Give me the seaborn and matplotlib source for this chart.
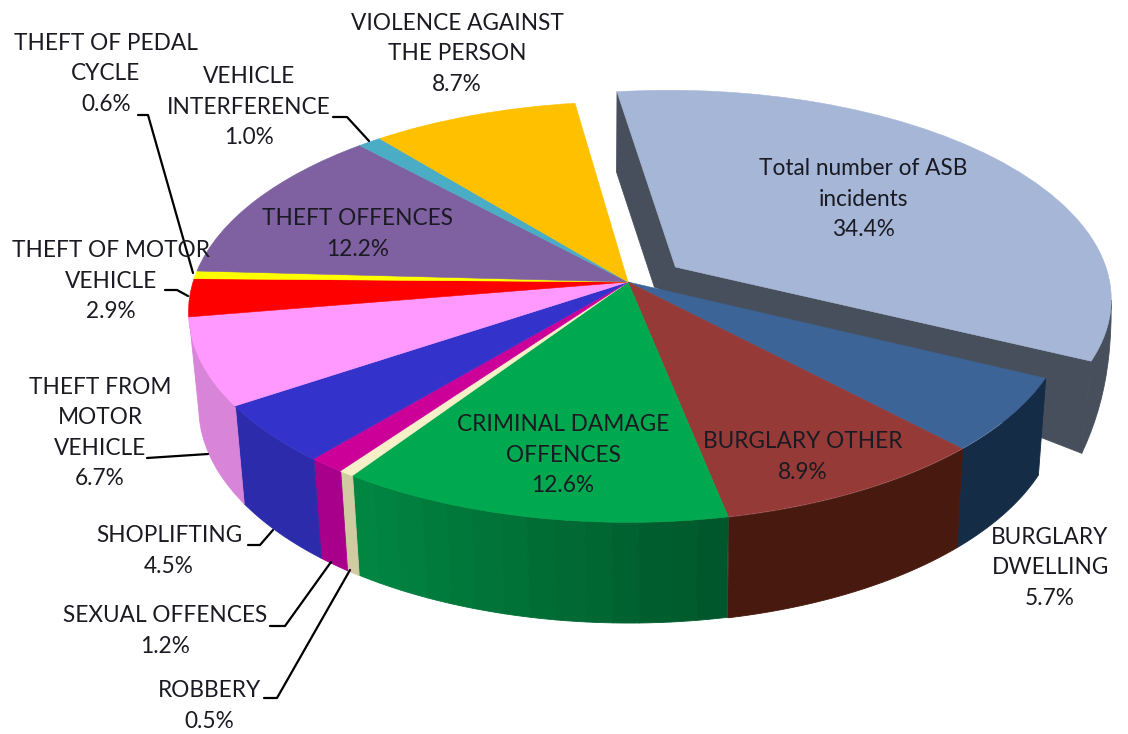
import numpy as np
import matplotlib
matplotlib.use("Agg")
import matplotlib.pyplot as plt
from matplotlib.collections import PolyCollection
from matplotlib.colors import to_rgb
from matplotlib.transforms import Transform
import seaborn as sns

# ---- data -------------------------------------------------------------
categories = ["Total number of ASB\nincidents", "BURGLARY\nDWELLING", "BURGLARY OTHER",
              "CRIMINAL DAMAGE\nOFFENCES", "ROBBERY", "SEXUAL OFFENCES", "SHOPLIFTING",
              "THEFT FROM\nMOTOR\nVEHICLE", "THEFT OF MOTOR\nVEHICLE", "THEFT OF PEDAL\nCYCLE",
              "THEFT OFFENCES", "VEHICLE\nINTERFERENCE", "VIOLENCE AGAINST\nTHE PERSON"]
values = [34.4, 5.7, 8.9, 12.6, 0.5, 1.2, 4.5, 6.7, 2.9, 0.6, 12.2, 1.0, 8.7]
explode = [0.125] + [0] * 12
top_colors = ["#a6b6d7", "#3c6497", "#953a36", "#00a84f", "#f5f0c8", "#cc0099", "#3333cc",
              "#ff99ff", "#ff0000", "#ffff00", "#7f60a0", "#4bacc6", "#ffc000"]
# wall colour at the slice's left and right end, None where the wall is hidden
wall_left = ["#484f5c", "#152c46", "#48190f", "#008842", "#d0cba0", "#a8008a", "#2b2bac",
             "#d884d8", None, None, None, None, None]
wall_right = ["#484f5c", "#152c46", "#48190f", "#00552a", "#d0cba0", "#a8008a", "#2b2bac",
              "#d884d8", None, None, None, None, None]

sns.set_theme(style="white")
plt.rcParams["font.family"] = ["Lato", "DejaVu Sans"]

W, H = 1128, 734
CX, CY, F, G, K = 628.0, 282.0, 435.0, 206.0, 0.143
START = 98.0


class Perspective(Transform):
    input_dims = output_dims = 2
    is_separable = False
    has_inverse = False

    def transform_non_affine(self, values):
        v = np.asarray(values, dtype=float)
        d = 1 + K * v[:, 1]
        return np.column_stack([CX + F * v[:, 0] / d, CY - G * v[:, 1] / d])


persp = Perspective()


def drop_rest(p):
    return np.column_stack([680 + (p[:, 0] - 680) * 0.98, p[:, 1] + 85 + 0.03 * p[:, 1]])


TIP_DROP = np.array([[1.059, -0.137], [0.272, 0.565]])


def drop_exploded(p, tip):
    return (p - tip) @ TIP_DROP.T + tip + np.array([-21.0, 20.0])


fig = plt.figure(figsize=(W / 100, H / 100), dpi=100)
ax = fig.add_axes([0, 0, 1, 1])
wedges, _ = ax.pie(values, explode=explode, colors=sns.color_palette(top_colors),
                   startangle=START, counterclock=False, radius=1.0,
                   wedgeprops=dict(linewidth=0.4))
ax.set_aspect("auto")
ax.set_xlim(0, W)
ax.set_ylim(H, 0)
ax.axis("off")
wedges[0].set_center((wedges[0].center[0] + 0.009, wedges[0].center[1]))

for i, w in enumerate(wedges):
    w.set_edgecolor(w.get_facecolor())
    w.set_transform(persp + ax.transData)
    w.set_zorder(2 if i == 0 else 4)
    w.set_clip_on(False)
    if wall_left[i] is None:
        continue

    t = np.radians(np.linspace(w.theta1, w.theta2, 90))
    cx, cy = w.center
    rim = persp.transform(np.column_stack([cx + np.cos(t), cy + np.sin(t)]))
    if i == 0:
        # rim starts at the lower-right corner and runs anticlockwise to the far corner
        tip = persp.transform(np.array([[cx, cy]]))[0]
        tipl = drop_exploded(tip[None, :], tip)[0]
        corner_low = drop_exploded(rim[:1], tip)[0]
        far_low = drop_exploded(rim[-1:], tip)[0]
        n = int(np.argmax(rim[:, 0])) + 1
        s = np.linspace(0, 1, n)
        offset = corner_low - rim[0]
        r = rim[:n]
        l = np.column_stack([r[:, 0] + offset[0] * (1 - s) ** 2,
                             r[:, 1] + offset[1] * (1 - s) ** 0.7])
        polys = [np.vstack([r, l[::-1]]),
                 [tip, rim[-1], far_low, tipl],
                 [tip, rim[0], corner_low, tipl]]
        cols = [to_rgb(wall_left[0])] * 3
        zo = 1
    elif wall_left[i] == wall_right[i]:
        low = drop_rest(rim)
        polys = [np.vstack([rim, low[::-1]])]
        cols = [to_rgb(wall_left[i])]
        zo = 3
    else:
        low = drop_rest(rim)
        bands = np.linspace(0, len(t) - 1, 15).astype(int)
        polys, cols = [], []
        left_first = rim[0, 0] < rim[-1, 0]
        c0, c1 = np.array(to_rgb(wall_left[i])), np.array(to_rgb(wall_right[i]))
        for a, b in zip(bands[:-1], bands[1:]):
            polys.append(np.vstack([rim[a:b + 1], low[a:b + 1][::-1]]))
            f = (a + b) / 2 / (len(t) - 1)
            cols.append(c0 + (c1 - c0) * (f if left_first else 1 - f))
        zo = 3
    pc = PolyCollection(polys, facecolors=cols, edgecolors=cols, linewidths=0.6, zorder=zo + i * 0.01)
    ax.add_collection(pc)

# ---- labels -----------------------------------------------------------
label_xy = [(863, 199), (1050, 568), (803, 457), (563, 455), (209, 706), (165, 631), (169, 551),
            (100, 433), (111, 281), (106, 74), (358, 234), (249, 107), (457, 54)]
for name, v, (x, y) in zip(categories, values, label_xy):
    ax.text(x, y, f"{name}\n{v:.1f}%", ha="center", va="center", multialignment="center",
            fontsize=16.3, linespacing=1.53, color="#1a1a22", zorder=6)

leaders = [[(138, 115), (148, 115), (193, 273)],
           [(333, 117), (347, 117), (369, 141)],
           [(165, 290), (177, 290), (188, 296)],
           [(147, 458), (208, 454)],
           [(248, 545), (260, 545), (273, 530)],
           [(270, 626), (285, 626), (331, 562)],
           [(264, 698), (277, 698), (350, 570)]]
for pts in leaders:
    xs, ys = zip(*pts)
    ax.plot(xs, ys, color="black", lw=1.6, zorder=5, solid_capstyle="round")

fig.savefig("out.png", dpi=100, facecolor="white")
